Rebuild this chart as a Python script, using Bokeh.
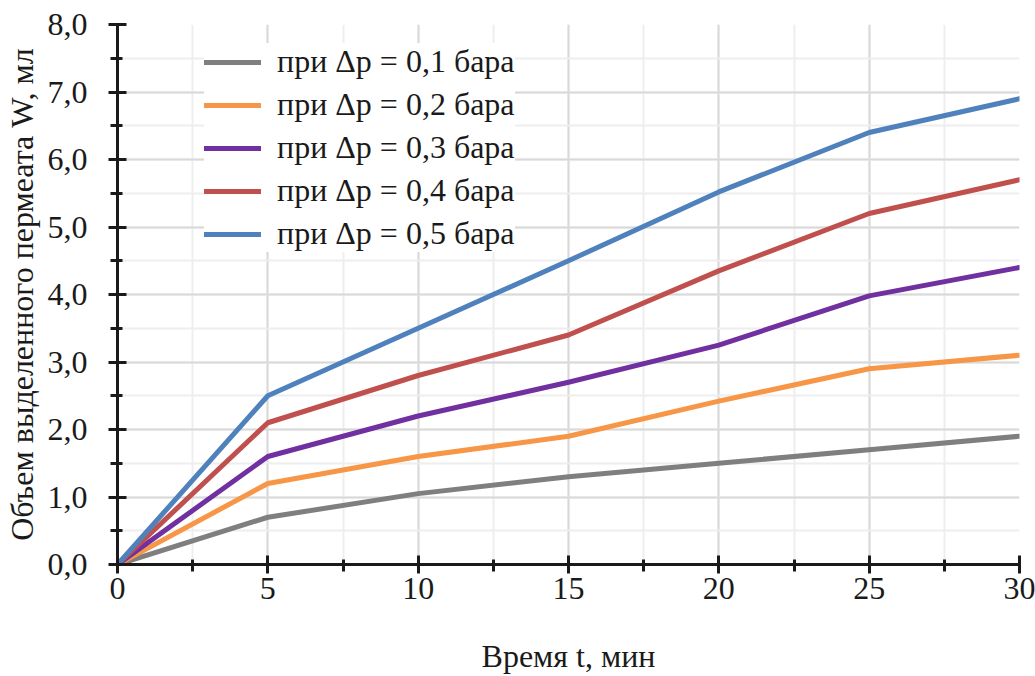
from bokeh.plotting import figure
from bokeh.models import CustomJSTickFormatter, Legend, LegendItem, SingleIntervalTicker
from bokeh.embed import file_html
from bokeh.resources import INLINE

time_min = [0, 5, 10, 15, 20, 25, 30]
w_01 = [0.0, 0.70, 1.05, 1.30, 1.50, 1.70, 1.90]
w_02 = [0.0, 1.20, 1.60, 1.90, 2.42, 2.90, 3.10]
w_03 = [0.0, 1.60, 2.20, 2.70, 3.25, 3.98, 4.40]
w_04 = [0.0, 2.10, 2.80, 3.40, 4.35, 5.20, 5.70]
w_05 = [0.0, 2.50, 3.50, 4.50, 5.52, 6.40, 6.90]
series_labels = ["при Δp = 0,1 бара", "при Δp = 0,2 бара", "при Δp = 0,3 бара",
                 "при Δp = 0,4 бара", "при Δp = 0,5 бара"]
series_values = [w_01, w_02, w_03, w_04, w_05]
colors = ["#7F7F7F", "#F79646", "#7030A0", "#C0504D", "#4F81BD"]

FONT = "'Liberation Serif'"
FS = "32px"

p = figure(width=1035, height=676, x_range=(0, 30), y_range=(0, 8),
           output_backend="svg", toolbar_location=None,
           min_border_left=117, min_border_right=16, min_border_top=24,
           min_border_bottom=109)
p.outline_line_color = None
p.background_fill_color = "white"

renderers = []
for vals, c in zip(series_values, colors):
    r = p.line(time_min, vals, line_color=c, line_width=5, line_join="round", line_cap="round")
    renderers.append(r)

p.xaxis.ticker = SingleIntervalTicker(interval=5, num_minor_ticks=2)
p.yaxis.ticker = SingleIntervalTicker(interval=1, num_minor_ticks=2)
p.yaxis.formatter = CustomJSTickFormatter(code="return tick.toFixed(1).replace('.', ',');")

for ax in (p.xaxis[0], p.yaxis[0]):
    ax.axis_line_color = "#1a1a1a"
    ax.axis_line_width = 3
    ax.major_tick_line_color = "#1a1a1a"
    ax.major_tick_line_width = 3
    ax.minor_tick_line_color = "#1a1a1a"
    ax.minor_tick_line_width = 3
    ax.major_tick_in = 9
    ax.major_tick_out = 9
    ax.minor_tick_in = 5
    ax.minor_tick_out = 7
    ax.major_label_text_font = FONT
    ax.major_label_text_font_size = FS
    ax.major_label_text_color = "#1a1a1a"
    ax.axis_label_text_font = FONT
    ax.axis_label_text_font_size = FS
    ax.axis_label_text_font_style = "normal"
    ax.axis_label_text_color = "#1a1a1a"

p.xaxis.axis_label = "Время t, мин"
p.yaxis.axis_label = "Объем выделенного пермеата W, мл"
p.xaxis.major_label_standoff = 4
p.xaxis.axis_label_standoff = 36
p.yaxis.major_label_standoff = 21
p.yaxis.axis_label_standoff = 5

for g in (p.xgrid[0], p.ygrid[0]):
    g.grid_line_color = "#d9d9d9"
    g.grid_line_width = 2
    g.minor_grid_line_color = "#eeeeee"
    g.minor_grid_line_width = 2

legend = Legend(items=[LegendItem(label=l, renderers=[r]) for l, r in zip(series_labels, renderers)],
                location=(87, 312))
legend.label_text_font = FONT
legend.label_text_font_size = FS
legend.label_text_color = "#1a1a1a"
legend.glyph_width = 57
legend.glyph_height = 36
legend.label_height = 36
legend.spacing = 6
legend.label_standoff = 16
legend.padding = 10
legend.margin = 0
legend.border_line_color = None
legend.background_fill_color = "white"
legend.background_fill_alpha = 1.0
p.add_layout(legend, "center")

open("out.html", "w").write(file_html(p, INLINE))
